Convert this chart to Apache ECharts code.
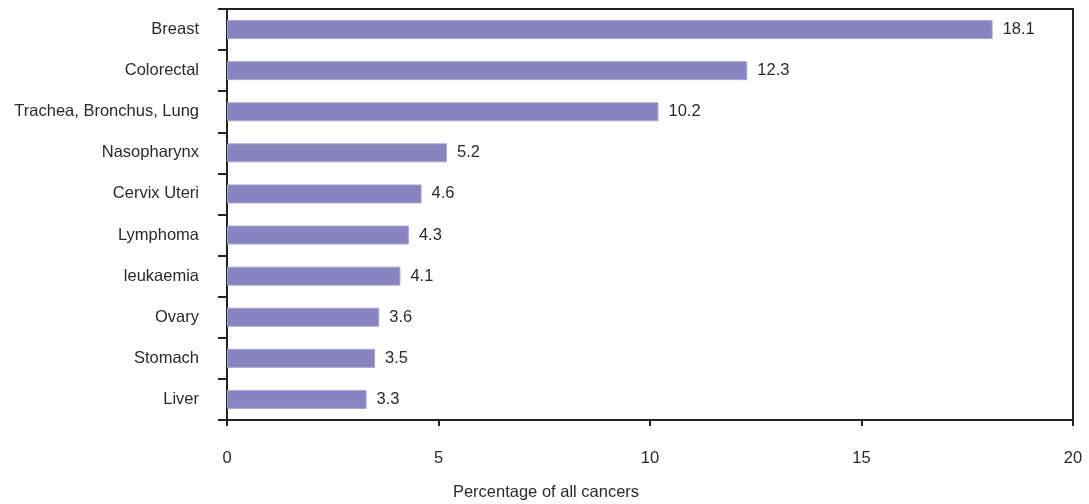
<!DOCTYPE html>
<html>
<head>
<meta charset="utf-8">
<script src="https://cdn.jsdelivr.net/npm/echarts@6/dist/echarts.min.js"></script>
<style>
  html, body { margin: 0; padding: 0; background: #fff; }
  #chart { width: 1089px; height: 504px; }
</style>
</head>
<body>
<div id="chart"></div>
<script>
var cancerSites = ['Breast', 'Colorectal', 'Trachea, Bronchus, Lung', 'Nasopharynx', 'Cervix Uteri',
    'Lymphoma', 'leukaemia', 'Ovary', 'Stomach', 'Liver'];
var percentages = [18.1, 12.3, 10.2, 5.2, 4.6, 4.3, 4.1, 3.6, 3.5, 3.3];
var xTicks = [0, 5, 10, 15, 20];

var myChart = echarts.init(document.getElementById('chart'));
var axisColor = '#222';
var textColor = '#2a2a2a';
var fontSize = 16.5;
var option = {
    backgroundColor: '#fff',
    animation: false,
    grid: {
        left: 227,
        right: 16,
        top: 9,
        bottom: 84,
        outerBoundsMode: 'none',
        show: true,
        borderColor: axisColor,
        borderWidth: 2
    },
    xAxis: {
        type: 'value',
        min: xTicks[0],
        max: xTicks[xTicks.length - 1],
        interval: 5,
        name: 'Percentage of all cancers',
        nameLocation: 'middle',
        nameGap: 64,
        nameTextStyle: {
            fontFamily: 'Liberation Sans',
            fontSize: fontSize,
            color: textColor,
            padding: [0, 208, 0, 0]
        },
        axisLine: { show: true, lineStyle: { color: axisColor, width: 2 } },
        axisTick: { show: true, length: 6, lineStyle: { color: axisColor, width: 2 } },
        axisLabel: { margin: 30, fontFamily: 'Liberation Sans', fontSize: fontSize, color: textColor },
        splitLine: { show: false }
    },
    yAxis: {
        type: 'category',
        data: cancerSites,
        inverse: true,
        axisLine: { show: true, lineStyle: { color: axisColor, width: 2 } },
        axisTick: { show: true, length: 9, lineStyle: { color: axisColor, width: 2 } },
        axisLabel: { margin: 28, fontFamily: 'Liberation Sans', fontSize: fontSize, color: textColor }
    },
    series: [{
        type: 'bar',
        data: percentages,
        barWidth: 19,
        itemStyle: {
            color: '#8884bf',
            borderColor: '#a9a6d3',
            borderWidth: 1
        },
        label: {
            show: true,
            position: 'right',
            distance: 10,
            fontFamily: 'Liberation Sans',
            fontSize: fontSize,
            color: textColor
        }
    }]
};
myChart.setOption(option);
</script>
</body>
</html>
